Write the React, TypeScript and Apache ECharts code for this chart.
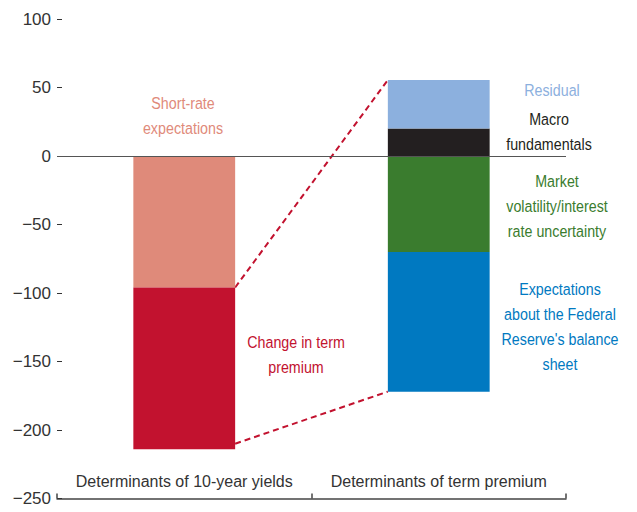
import React, { useEffect, useRef } from "react";
import * as echarts from "echarts";

const categories = ["Determinants of 10-year yields", "Determinants of term premium"];
const yTicks = [-250, -200, -150, -100, -50, 0, 50, 100];

// contributions (basis points)
const shortRate = [-96, null];
const termPremium = [-118, null];
const macroFundamentals = [null, 20];
const residual = [null, 35.5];
const marketVolatility = [null, -70];
const fedBalanceSheet = [null, -102];

const FONT = "'Liberation Sans', Arial, sans-serif";

export default function App() {
  const ref = useRef<HTMLDivElement>(null);
  useEffect(() => {
    const chart = echarts.init(ref.current!, null, { renderer: "svg" });
    const leftTop = shortRate[0] as number;
    const leftBottom = leftTop + (termPremium[0] as number);
    const rightTop = (macroFundamentals[1] as number) + (residual[1] as number);
    const rightBottom = (marketVolatility[1] as number) + (fedBalanceSheet[1] as number);

    const bar = (name: string, data: (number | null)[], color: string, extra: any = {}) => ({
      name,
      type: "bar",
      stack: "total",
      barWidth: "40%",
      data,
      itemStyle: { color },
      xAxisIndex: 0,
      ...extra,
    });

    const textEl = (text: string, x: number, y: number, fill: string) => ({
      type: "text",
      x,
      y,
      scaleX: 0.84,
      style: {
        text,
        fill,
        font: `17px ${FONT}`,
        align: "center",
        verticalAlign: "middle",
        lineHeight: 25,
      },
    });

    chart.setOption({
      animation: false,
      grid: { left: 57, right: 71, top: 19, bottom: 13.5 },
      xAxis: [
        {
          type: "category",
          data: categories,
          axisLine: { show: true, onZero: false, lineStyle: { color: "#444", width: 1.5 } },
          axisTick: {
            show: true,
            interval: 0,
            inside: true,
            length: 5,
            alignWithLabel: false,
            lineStyle: { color: "#444", width: 1.5 },
          },
          axisLabel: {
            inside: true,
            interval: 0,
            margin: 9,
            color: "#333",
            fontSize: 16,
            fontFamily: FONT,
            verticalAlign: "bottom",
          },
          splitLine: { show: false },
        },
        {
          type: "value",
          min: 0,
          max: 2,
          show: false,
          position: "top",
        },
      ],
      yAxis: {
        type: "value",
        min: -250,
        max: 100,
        interval: 50,
        axisLine: { show: false },
        axisTick: { show: true, inside: true, length: 5, lineStyle: { color: "#333" } },
        splitLine: { show: false },
        axisLabel: {
          margin: 6,
          color: "#333",
          fontSize: 17,
          fontFamily: FONT,
          formatter: (v: number) => (yTicks.includes(v) ? String(v).replace("-", "\u2212") : ""),
        },
      },
      series: [
        bar("Short-rate expectations", shortRate, "#DF8A7A", {
          markLine: {
            silent: true,
            symbol: "none",
            label: { show: false },
            lineStyle: { color: "#555", width: 1, type: "solid" },
            data: [{ yAxis: 0 }],
          },
        }),
        bar("Change in term premium", termPremium, "#C2122F"),
        bar("Macro fundamentals", macroFundamentals, "#231F20"),
        bar("Residual", residual, "#8CB0DE"),
        bar("Market volatility/interest rate uncertainty", marketVolatility, "#3A7C2E"),
        bar("Expectations about the Federal Reserve's balance sheet", fedBalanceSheet, "#0079C1"),
        {
          type: "line",
          xAxisIndex: 1,
          data: [
            [0.7, leftTop],
            [1.3, rightTop],
          ],
          symbol: "none",
          lineStyle: { color: "#C2122F", width: 2, type: [6, 4] },
          z: 1,
        },
        {
          type: "line",
          xAxisIndex: 1,
          data: [
            [0.7, leftBottom + 4],
            [1.3, rightBottom],
          ],
          symbol: "none",
          lineStyle: { color: "#C2122F", width: 2, type: [6, 4] },
          z: 1,
        },
      ],
      graphic: [
        textEl("Short-rate\nexpectations", 183, 116, "#DF8A7A"),
        textEl("Change in term\npremium", 296, 355, "#C2122F"),
        textEl("Residual", 552, 90, "#8CB0DE"),
        textEl("Macro\nfundamentals", 549, 132, "#231F20"),
        textEl("Market\nvolatility/interest\nrate uncertainty", 557, 206, "#3A7C2E"),
        textEl("Expectations\nabout the Federal\nReserve's balance\nsheet", 560, 327, "#0079C1"),
      ],
    });
    return () => chart.dispose();
  }, []);
  return (
    <div
      ref={ref}
      style={{ position: "absolute", left: 0, top: 0, width: 637, height: 512, background: "#fff" }}
    />
  );
}
